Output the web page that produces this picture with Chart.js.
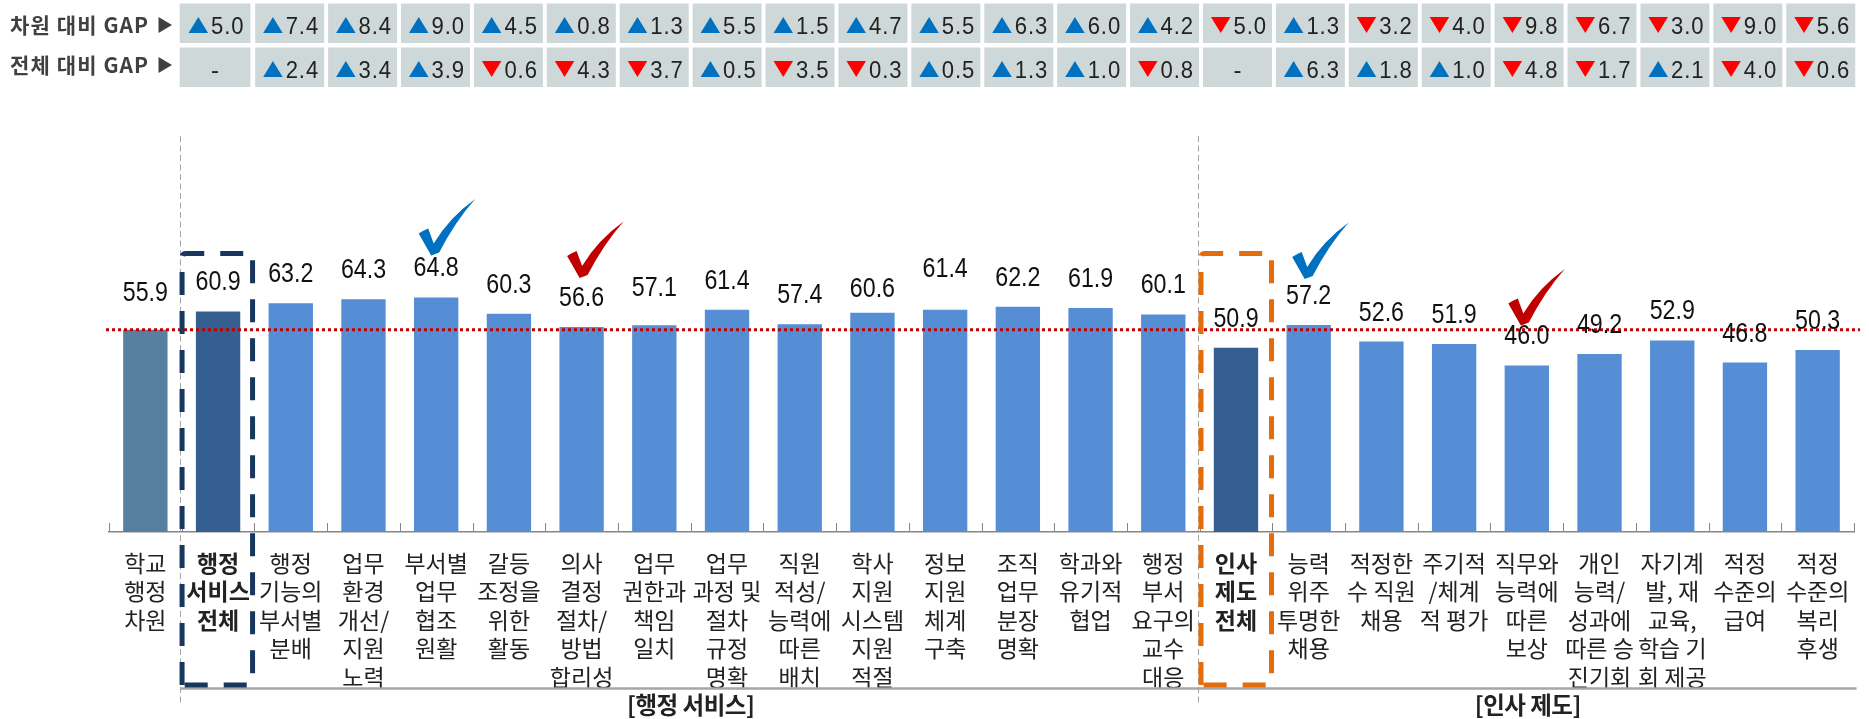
<!DOCTYPE html>
<html><head><meta charset="utf-8">
<style>html,body{margin:0;padding:0;background:#fff}#wrap{position:relative;width:1869px;height:719px}canvas{display:block}</style>
<script src="https://cdn.jsdelivr.net/npm/chart.js@4"></script>
</head><body><div id="wrap"><canvas id="c" width="1869" height="719"></canvas></div>
<script>
const categories = [
 ["학교","행정","차원"],["행정","서비스","전체"],["행정","기능의","부서별","분배"],["업무","환경","개선/","지원","노력"],
 ["부서별","업무","협조","원활"],["갈등","조정을","위한","활동"],["의사","결정","절차/","방법","합리성"],["업무","권한과","책임","일치"],
 ["업무","과정 및","절차","규정","명확"],["직원","적성/","능력에","따른","배치"],["학사","지원","시스템","지원","적절"],["정보","지원","체계","구축"],
 ["조직","업무","분장","명확"],["학과와","유기적","협업"],["행정","부서","요구의","교수","대응"],["인사","제도","전체"],
 ["능력","위주","투명한","채용"],["적정한","수 직원","채용"],["주기적","/체계","적 평가"],["직무와","능력에","따른","보상"],
 ["개인","능력/","성과에","따른 승","진기회"],["자기계","발, 재","교육,","학습 기","회 제공"],["적정","수준의","급여"],["적정","수준의","복리","후생"]
];
const scores = [55.9,60.9,63.2,64.3,64.8,60.3,56.6,57.1,61.4,57.4,60.6,61.4,62.2,61.9,60.1,50.9,57.2,52.6,51.9,46.0,49.2,52.9,46.8,50.3];
const gapDimension = [5.0,7.4,8.4,9.0,4.5,0.8,1.3,5.5,1.5,4.7,5.5,6.3,6.0,4.2,-5.0,1.3,-3.2,-4.0,-9.8,-6.7,-3.0,-9.0,-5.6];
const gapOverall = [null,2.4,3.4,3.9,-0.6,-4.3,-3.7,0.5,-3.5,-0.3,0.5,1.3,1.0,-0.8,null,6.3,1.8,1.0,-4.8,-1.7,2.1,-4.0,-0.6];
const rowTitles = ["차원 대비 GAP","전체 대비 GAP"];
const groupTitles = ["[행정 서비스]","[인사 제도]"];
const referenceValue = 55.9;

const KR = '"Noto Sans CJK KR","Noto Sans",sans-serif';
const LAT = '"Liberation Sans",Arial,sans-serif';
const BLUE='#0070C0', RED='#FF0000', DARKRED='#C00000';
const barColors = scores.map((_,i)=> i===0?'#567FA0':(i===1||i===15)?'#355F91':'#558ED5');
// vertical gap, in px, between a bar top and its value label (as placed in the reference)
const labelLift = scores.map((_,i)=> ({0:36,7:37,10:23,11:40})[i] ?? 28.5);
const checks = [{i:4,c:BLUE,dx:-5,lift:42},{i:6,c:DARKRED,dx:-2,lift:49},{i:16,c:BLUE,dx:-4,lift:46},{i:19,c:DARKRED,dx:-6,lift:40}];

function narrowText(ctx,s,x,y,sx){ctx.save();ctx.translate(x,y);ctx.scale(sx,1);ctx.fillText(s,0,0);ctx.restore();}
function drawCheck(ctx,x,y,color){
  ctx.save();ctx.translate(x,y);ctx.fillStyle=color;ctx.beginPath();
  ctx.moveTo(0,0);ctx.lineTo(-12.5,-22);ctx.quadraticCurveTo(-8,-25,-3,-27);
  ctx.lineTo(2.5,-12);ctx.quadraticCurveTo(18,-38,44,-56.5);
  ctx.quadraticCurveTo(24,-34,8,-3);ctx.closePath();ctx.fill();ctx.restore();
}
function dashedBox(ctx,l,t,r,b,color){
  ctx.save();ctx.strokeStyle=color;ctx.lineWidth=5;ctx.setLineDash([23,16]);ctx.lineJoin='round';
  ctx.beginPath();ctx.moveTo(l,b);ctx.lineTo(l,t+4);ctx.quadraticCurveTo(l,t,l+4,t);ctx.lineTo(r,t);ctx.lineTo(r,b-4);ctx.quadraticCurveTo(r,b,r-4,b);ctx.lineTo(l,b);ctx.stroke();ctx.restore();
}
function drawGapCell(ctx,cx,top,w,h,v){
  ctx.fillStyle='#CFD8D8';ctx.fillRect(cx-w/2,top,w,h);
  ctx.textBaseline='alphabetic';
  if(v===null){ctx.fillStyle='#222';ctx.font='24px '+LAT;ctx.textAlign='center';ctx.fillText('-',cx,top+30);return;}
  const up=v>=0;
  const tx=cx-26.5,ty=top+13.5;
  ctx.fillStyle=up?BLUE:RED;ctx.beginPath();
  if(up){ctx.moveTo(tx,ty+16);ctx.lineTo(tx+19.5,ty+16);ctx.lineTo(tx+9.75,ty);}
  else{ctx.moveTo(tx,ty);ctx.lineTo(tx+19.5,ty);ctx.lineTo(tx+9.75,ty+16);}
  ctx.closePath();ctx.fill();
  ctx.fillStyle='#222';ctx.font='24px '+LAT;ctx.textAlign='left';ctx.letterSpacing='1px';
  narrowText(ctx,Math.abs(v).toFixed(1),cx-4,top+30,0.92);ctx.letterSpacing='0px';
}
const decor = {
 id:'decor',
 afterDatasetsDraw(chart){
  const {ctx,scales:{x,y}}=chart;
  const w=x.getPixelForValue(1)-x.getPixelForValue(0);
  const base=y.getPixelForValue(0);
  ctx.save();
  // inward ticks at category boundaries
  ctx.strokeStyle='#868686';ctx.lineWidth=1;ctx.beginPath();
  for(let i=0;i<=scores.length;i++){const px=Math.round(x.getPixelForValue(i)-w/2)+.5;ctx.moveTo(px,base);ctx.lineTo(px,base-9);}
  ctx.stroke();
  // GAP table (its columns run on a slightly wider pitch than the bars)
  [gapDimension,gapOverall].forEach((row,r)=>{
    const top=r===0?3.5:47.5, mid=r===0?25:65;
    row.forEach((v,k)=>{
      const cx=k===0?x.getPixelForValue(1)-3:x.getPixelForValue(k+1)+(k-1)*0.2-1.1;
      drawGapCell(ctx,cx,top,k===0?70.7:69,39.5,v);
    });
    ctx.fillStyle='#404040';ctx.font='bold 21px '+KR;ctx.textAlign='left';ctx.textBaseline='middle';ctx.letterSpacing='1.1px';
    ctx.fillText(rowTitles[r],10,mid);ctx.letterSpacing='0px';
    ctx.beginPath();ctx.moveTo(158.5,mid-8);ctx.lineTo(172,mid);ctx.lineTo(158.5,mid+8);ctx.closePath();ctx.fill();
  });
  // section separators
  ctx.strokeStyle='#A6A6A6';ctx.lineWidth=1;ctx.setLineDash([6,3.5]);
  [1,15].forEach(i=>{const px=Math.round(x.getPixelForValue(i)-w/2-1.5)+.5;ctx.beginPath();ctx.moveTo(px,136);ctx.lineTo(px,705);ctx.stroke();});
  ctx.setLineDash([]);
  ctx.strokeStyle='#A6A6A6';ctx.lineWidth=2.5;ctx.beginPath();ctx.moveTo(x.getPixelForValue(1)-w/2-1,688.5);ctx.lineTo(1856.5,688.5);ctx.stroke();
  // group titles
  ctx.fillStyle='#222';ctx.font='bold 23.5px '+KR;ctx.textAlign='center';ctx.textBaseline='middle';ctx.letterSpacing='-0.5px';
  ctx.fillText(groupTitles[0],(x.getPixelForValue(7)+x.getPixelForValue(8))/2,705);
  ctx.fillText(groupTitles[1],x.getPixelForValue(19)+1,705);ctx.letterSpacing='0px';
  // reference line
  const ry=y.getPixelForValue(referenceValue);
  ctx.strokeStyle=DARKRED;ctx.lineWidth=3;ctx.setLineDash([3,3]);ctx.beginPath();ctx.moveTo(106,ry);ctx.lineTo(1860,ry);ctx.stroke();ctx.setLineDash([]);
  // value labels
  ctx.fillStyle='#111';ctx.font='27px '+LAT;ctx.textAlign='center';ctx.textBaseline='middle';
  scores.forEach((v,i)=>narrowText(ctx,v.toFixed(1),x.getPixelForValue(i),y.getPixelForValue(v)-labelLift[i],0.86));
  // dashed highlight boxes
  dashedBox(ctx,x.getPixelForValue(1)-36,253.5,x.getPixelForValue(1)+34.5,685,'#17375E');
  dashedBox(ctx,x.getPixelForValue(15)-35,253.5,x.getPixelForValue(15)+35.5,685,'#E46C0A');
  // check marks
  checks.forEach(m=>drawCheck(ctx,x.getPixelForValue(m.i)+m.dx,y.getPixelForValue(scores[m.i])-m.lift,m.c));
  ctx.restore();
 }
};
new Chart(document.getElementById('c'),{
 type:'bar',
 data:{labels:categories,datasets:[{data:scores,backgroundColor:barColors,borderWidth:0,barPercentage:.61,categoryPercentage:1}]},
 plugins:[decor],
 options:{
  responsive:false,animation:false,
  layout:{padding:{left:109,right:15,top:170,bottom:0}},
  plugins:{legend:{display:false},tooltip:{enabled:false},title:{display:false}},
  scales:{
   x:{afterFit:s=>{s.height=187;},grid:{display:false,drawTicks:false},border:{display:true,color:'#868686',width:1.5},
      ticks:{autoSkip:false,maxRotation:0,minRotation:0,padding:17,color:'#222',
             font:c=>({family:KR,size:23,lineHeight:'28.5px',weight:(c.index===1||c.index===15)?'bold':'normal'})}},
   y:{display:false,min:0,max:100,grid:{display:false}}
  }
 }
});
</script></body></html>
